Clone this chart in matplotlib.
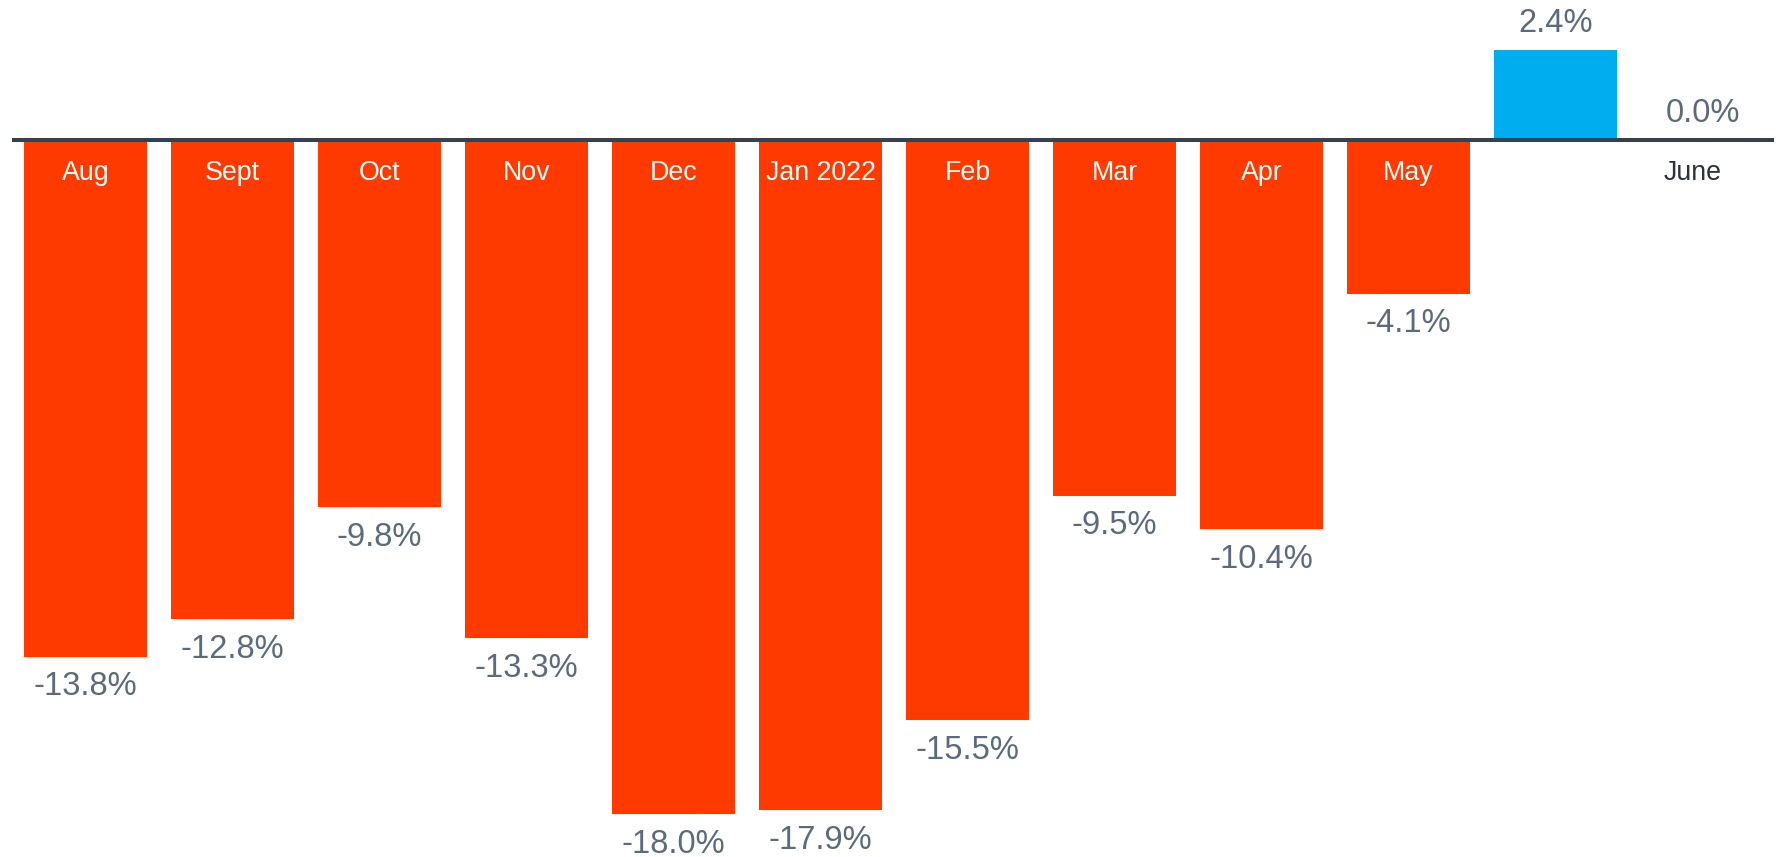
import matplotlib
matplotlib.use("Agg")
import matplotlib.pyplot as plt

plt.rcParams['font.family'] = ['Liberation Sans', 'DejaVu Sans']

months = ["Aug", "Sept", "Oct", "Nov", "Dec", "Jan 2022", "Feb", "Mar", "Apr", "May", "", "June"]
values = [-13.8, -12.8, -9.8, -13.3, -18.0, -17.9, -15.5, -9.5, -10.4, -4.1, 2.4, 0.0]
value_labels = ["-13.8%", "-12.8%", "-9.8%", "-13.3%", "-18.0%", "-17.9%", "-15.5%",
                "-9.5%", "-10.4%", "-4.1%", "2.4%", "0.0%"]

NEG = "#FF3A00"
POS = "#00AEEF"

fig = plt.figure(figsize=(17.79, 8.57), dpi=100)
ax = fig.add_axes([12/1779, 0, (1776-12)/1779, 1])
x = list(range(len(values)))
colors = [POS if v > 0 else NEG for v in values]
ax.bar(x, values, width=0.835, color=colors, zorder=2)
ax.set_xlim(-0.5, len(values) - 0.5)
ax.set_ylim(-19.15, 3.74)
ax.axhline(0, color="#37414b", lw=2.9, zorder=3, xmax=0.9975)
ax.axis("off")

for xi, v, lab, m in zip(x, values, value_labels, months):
    if v >= 0:
        ax.annotate(lab, (xi, v), xytext=(0, 8), textcoords="offset points",
                    ha="center", va="bottom", fontsize=23.5, color="#5b6b7c")
    else:
        ax.annotate(lab, (xi, v), xytext=(0, -10.5), textcoords="offset points",
                    ha="center", va="top", fontsize=23.5, color="#5b6b7c")
    if m:
        col = "white" if v < 0 else "#2d3238"
        ax.annotate(m, (xi - (0.07 if v == 0 else 0), 0), xytext=(0, -24), textcoords="offset points",
                    ha="center", va="center", fontsize=19.3, color=col, zorder=4)

fig.savefig("out.png", dpi=100)
